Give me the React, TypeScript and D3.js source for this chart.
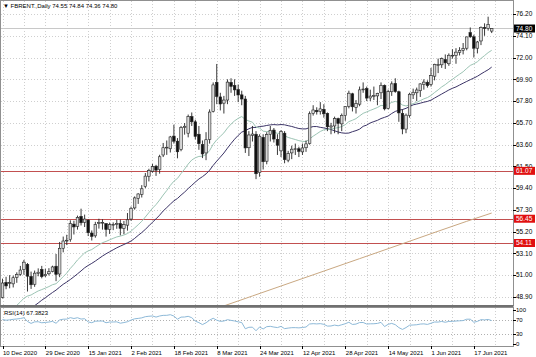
import React from "react";
import * as d3 from "d3";

const W = 536;
const H = 357;

// closes before the first visible bar (needed by the moving averages and RSI)
const priorCloses = [41.2, 39.12, 37.65, 37.46, 38.97, 40.71, 41.23, 40.93, 39.45, 42.4, 43.61, 43.8, 43.53, 42.78, 43.82, 43.75, 44.34, 44.2, 44.96, 46.06, 47.86, 48.61, 47.8, 48.18, 47.59, 47.42, 48.25, 48.71, 49.25, 48.79, 48.84, 48.86];

const opens = [48.86, 50.31, 50.22, 50.17, 50.79, 51.09, 51.54, 52.04, 50.88, 50.13, 51.18, 51.56, 50.95, 51.14, 51.36, 51.87, 51.12, 53.6, 54.34, 54.43, 55.93, 55.72, 56.68, 56.1, 56.32, 55.07, 54.8, 56.05, 56.1, 55.98, 55.42, 55.83, 55.9, 55.98, 55.52, 55.83, 56.42, 57.49, 58.41, 58.8, 59.56, 60.55, 61.03, 61.52, 61.2, 62.6, 63.29, 63.2, 64.42, 63.93, 63.12, 65.24, 64.7, 66.3, 65.8, 64.6, 63.6, 62.8, 64.1, 66.8, 69.6, 68.2, 67.6, 67.9, 69.6, 69.3, 68.9, 68.4, 68.0, 63.3, 64.5, 64.6, 60.9, 64.3, 62.0, 64.6, 65.0, 64.1, 63.0, 64.7, 62.1, 62.8, 63.2, 63.2, 62.9, 63.3, 63.7, 66.6, 66.9, 66.8, 67.0, 66.6, 65.3, 65.4, 66.1, 65.6, 66.4, 67.3, 68.5, 67.2, 67.5, 68.9, 69.0, 68.1, 68.3, 68.3, 68.6, 69.3, 67.1, 68.7, 69.5, 68.7, 66.6, 65.1, 66.4, 68.4, 68.6, 68.8, 69.4, 69.6, 69.4, 70.2, 71.3, 71.3, 71.8, 71.4, 72.2, 72.2, 72.5, 72.7, 72.9, 74.4, 74.0, 72.9, 73.6, 74.9, 74.8, 74.55];
const highs = [50.67, 50.85, 51.01, 50.96, 51.28, 51.9, 52.48, 52.18, 51.35, 51.45, 51.66, 51.9, 51.62, 51.68, 51.92, 53.05, 54.21, 54.73, 54.9, 56.3, 56.26, 56.75, 57.42, 56.85, 56.4, 55.32, 56.15, 56.45, 56.4, 56.0, 56.08, 56.1, 56.34, 56.37, 56.24, 57.0, 57.62, 58.6, 58.91, 59.69, 60.86, 61.27, 61.74, 61.65, 62.62, 63.76, 64.0, 64.44, 65.52, 64.23, 65.4, 65.68, 66.5, 66.7, 66.0, 65.4, 64.0, 64.8, 67.0, 69.6, 71.38, 68.6, 68.3, 69.9, 70.0, 69.9, 69.4, 68.8, 68.3, 64.9, 65.4, 64.9, 64.6, 64.6, 64.8, 65.4, 65.2, 64.6, 65.0, 64.9, 63.0, 63.5, 63.7, 63.4, 63.7, 64.0, 66.8, 67.4, 67.2, 67.7, 67.5, 66.7, 65.7, 66.3, 66.2, 66.6, 67.3, 68.8, 68.6, 67.9, 69.2, 69.6, 69.2, 68.9, 69.2, 68.6, 69.6, 69.4, 68.9, 69.7, 70.0, 68.8, 67.0, 66.6, 68.6, 69.0, 69.1, 69.5, 69.9, 69.8, 71.0, 71.4, 71.9, 72.0, 72.3, 72.4, 72.8, 72.9, 73.0, 73.4, 74.0, 74.9, 74.2, 73.6, 75.0, 75.3, 75.94, 74.84];
const lows = [48.76, 49.65, 49.74, 49.82, 50.27, 50.95, 51.05, 49.43, 49.68, 49.88, 50.9, 50.7, 50.82, 50.98, 51.28, 50.43, 50.81, 53.21, 53.91, 54.23, 54.93, 55.4, 55.8, 55.65, 54.78, 54.35, 54.62, 55.5, 55.4, 54.73, 54.98, 55.35, 55.48, 54.85, 54.96, 55.3, 56.25, 57.33, 57.88, 58.5, 59.4, 60.05, 60.9, 60.58, 60.8, 62.4, 62.61, 62.84, 63.7, 62.28, 62.96, 64.56, 64.3, 65.4, 64.1, 63.1, 62.3, 62.1, 63.7, 66.7, 67.5, 66.9, 66.6, 67.5, 68.6, 68.3, 67.7, 67.4, 62.8, 62.5, 63.9, 60.27, 60.5, 61.2, 61.7, 63.9, 63.8, 62.6, 62.4, 61.8, 61.9, 62.2, 62.6, 62.4, 62.6, 62.9, 63.6, 66.4, 66.5, 66.5, 66.2, 64.9, 64.6, 64.7, 64.6, 64.9, 65.9, 67.1, 66.8, 66.6, 67.3, 68.6, 67.8, 67.8, 67.9, 67.4, 68.0, 66.9, 67.0, 68.3, 68.6, 65.8, 64.6, 64.7, 66.2, 68.0, 67.8, 68.2, 68.9, 69.1, 69.2, 69.8, 70.5, 71.0, 70.9, 71.2, 71.9, 71.4, 72.2, 72.3, 72.7, 73.9, 72.0, 72.4, 73.2, 74.1, 74.6, 74.36];
const closes = [50.25, 49.97, 50.29, 50.76, 51.08, 51.5, 52.26, 50.91, 50.08, 51.2, 51.29, 50.86, 51.09, 51.34, 51.8, 51.09, 53.6, 54.3, 54.38, 55.99, 55.66, 56.58, 56.06, 56.42, 55.1, 54.75, 55.9, 56.08, 56.1, 55.41, 55.88, 55.91, 56.0, 55.53, 55.88, 56.35, 57.46, 58.46, 58.84, 59.34, 60.56, 61.09, 61.47, 61.14, 62.43, 63.3, 63.35, 64.34, 63.93, 62.91, 65.24, 65.37, 66.3, 65.8, 64.4, 63.69, 62.7, 64.07, 66.74, 69.36, 68.24, 67.52, 67.9, 69.63, 69.22, 68.88, 68.39, 68.0, 63.28, 64.53, 64.62, 60.79, 64.41, 61.95, 64.57, 64.98, 64.14, 63.54, 64.86, 62.15, 62.74, 63.16, 63.2, 62.95, 63.28, 63.67, 66.58, 66.94, 66.77, 67.05, 66.57, 65.32, 65.4, 66.11, 65.65, 66.42, 67.27, 68.56, 67.25, 67.56, 68.88, 68.96, 68.09, 68.28, 68.32, 68.55, 69.32, 67.05, 68.71, 69.46, 68.71, 66.66, 65.11, 66.44, 68.46, 68.65, 68.87, 69.46, 69.63, 69.3, 70.25, 71.35, 71.31, 71.89, 71.49, 72.22, 72.22, 72.52, 72.69, 72.86, 73.99, 74.0, 72.9, 73.5, 74.9, 74.81, 75.19, 74.8];

// long moving average (at a few bars)
const longMaBars = [55, 70, 85, 100, 115, 130, 137];
const longMaValues = [47.2, 49.0, 50.8, 52.6, 54.4, 56.2, 57.0];

const dateTickLabels = ["10 Dec 2020", "29 Dec 2020", "15 Jan 2021", "2 Feb 2021", "18 Feb 2021", "8 Mar 2021", "24 Mar 2021", "12 Apr 2021", "28 Apr 2021", "14 May 2021", "1 Jun 2021", "17 Jun 2021"];
const dateTickBars = [0, 12, 24, 36, 48, 60, 72, 84, 96, 108, 120, 132];
const priceTicks = [76.2, 74.1, 72.0, 69.9, 67.8, 65.7, 63.6, 61.5, 59.4, 57.3, 55.2, 53.1, 51.0, 48.9];
const levelPrices = [61.07, 56.45, 54.11];
const rsiTicks = [100, 70, 30, 0];
const rsiLevels = [70, 30];
const lastPrice = 74.8;
const headerText = "FBRENT.,Daily  74.55 74.84 74.36 74.80";
const rsiText = "RSI(14) 67.3823";

const FONT = "'Liberation Sans', Arial, sans-serif";

function ema(values: number[], n: number): (number | null)[] {
  const out: (number | null)[] = [];
  let prev: number | null = null;
  const k = 2 / (n + 1);
  values.forEach((v, i) => {
    if (i < n - 1) { out.push(null); return; }
    if (prev === null) prev = d3.mean(values.slice(0, n)) as number;
    else prev = v * k + prev * (1 - k);
    out.push(prev);
  });
  return out;
}
function sma(values: number[], n: number): (number | null)[] {
  return values.map((_, i) => (i < n - 1 ? null : (d3.mean(values.slice(i - n + 1, i + 1)) as number)));
}
function rsi(values: number[], n: number): (number | null)[] {
  const out: (number | null)[] = [null];
  let ag = 0, al = 0;
  for (let i = 1; i < values.length; i++) {
    const ch = values[i] - values[i - 1];
    const g = Math.max(ch, 0), l = Math.max(-ch, 0);
    if (i <= n) {
      ag += g / n; al += l / n;
      out.push(i === n ? 100 - 100 / (1 + ag / (al || 1e-9)) : null);
    } else {
      ag = (ag * (n - 1) + g) / n;
      al = (al * (n - 1) + l) / n;
      out.push(100 - 100 / (1 + ag / (al || 1e-9)));
    }
  }
  return out;
}

export default function App() {
  const n = closes.length;
  const left = 1, right = 513, top = 1, mainBottom = 305, rsiTop = 308, rsiBottom = 346;
  const x = d3.scaleLinear().domain([0, n - 1]).range([2.5, 491.7]);
  const y = d3.scaleLinear().domain([48.9, 76.2]).range([297, 14]);
  const yr = d3.scaleLinear().domain([0, 100]).range([344, 309.5]);

  const all = priorCloses.concat(closes);
  const off = priorCloses.length;
  const fast = ema(all, 20).slice(off);
  const slow = sma(all, 30).slice(off);
  const rs = rsi(all, 14).slice(off);

  const lineGen = d3.line<[number, number | null]>()
    .defined((d) => d[1] !== null)
    .x((d) => x(d[0]))
    .y((d) => y(d[1] as number));
  const fastPath = lineGen(fast.map((v, i) => [i, v]));
  const slowPath = lineGen(slow.map((v, i) => [i, v]));
  const longPath = d3.line<number>()
    .x((_, i) => x(longMaBars[i]))
    .y((v) => y(v))
    .curve(d3.curveMonotoneX)(longMaValues);
  const rsiPath = d3.line<[number, number | null]>()
    .defined((d) => d[1] !== null)
    .x((d) => x(d[0]))
    .y((d) => yr(d[1] as number))(rs.map((v, i) => [i, v]));

  const gridBars = d3.range(0, n + 2, 6);
  const bw = 2.6;

  return (
    <svg width={W} height={H} style={{ display: "block", position: "absolute", left: 0, top: 0, background: "#fff" }}>
      <defs>
        <clipPath id="mainClip"><rect x={left} y={top} width={right - left} height={mainBottom - top} /></clipPath>
        <clipPath id="rsiClip"><rect x={left} y={rsiTop} width={right - left} height={rsiBottom - rsiTop} /></clipPath>
      </defs>
      <rect x={0} y={0} width={W} height={H} fill="#fff" />
      {/* grid */}
      <g stroke="#cfcfcf" strokeWidth={1} strokeDasharray="1,2">
        {priceTicks.map((p) => (
          <line key={"hg" + p} x1={left} x2={right} y1={Math.round(y(p)) + 0.5} y2={Math.round(y(p)) + 0.5} />
        ))}
        {gridBars.map((b) => (
          <line key={"vg" + b} x1={Math.round(x(b)) + 0.5} x2={Math.round(x(b)) + 0.5} y1={top} y2={mainBottom} />
        ))}
        {gridBars.map((b) => (
          <line key={"vgr" + b} x1={Math.round(x(b)) + 0.5} x2={Math.round(x(b)) + 0.5} y1={rsiTop} y2={rsiBottom} />
        ))}
        {rsiLevels.map((r) => (
          <line key={"rl" + r} x1={left} x2={right} y1={Math.round(yr(r)) + 0.5} y2={Math.round(yr(r)) + 0.5} stroke="#b0b0b0" />
        ))}
      </g>
      <g clipPath="url(#mainClip)">
        {/* last price line */}
        <line x1={left} x2={right} y1={y(lastPrice)} y2={y(lastPrice)} stroke="#c8c8c8" strokeWidth={1} />
        {levelPrices.map((p) => (
          <line key={"lv" + p} x1={left} x2={right} y1={Math.round(y(p)) + 0.5} y2={Math.round(y(p)) + 0.5} stroke="#c25050" strokeWidth={1} />
        ))}
        <path d={longPath || ""} fill="none" stroke="#c9a882" strokeWidth={1} />
        <path d={slowPath || ""} fill="none" stroke="#3b3366" strokeWidth={1} />
        <path d={fastPath || ""} fill="none" stroke="#9cc4b4" strokeWidth={1} />
        {closes.map((c, i) => {
          const o = opens[i];
          const cx = x(i);
          const up = c >= o;
          const yt = y(Math.max(o, c));
          const yb = y(Math.min(o, c));
          return (
            <g key={"c" + i}>
              <line x1={cx} x2={cx} y1={y(highs[i])} y2={y(lows[i])} stroke="#222" strokeWidth={0.9} />
              <rect x={cx - bw / 2} y={yt} width={bw} height={Math.max(yb - yt, 0.8)}
                fill={up ? "#d8d8d8" : "#111"} stroke="#222" strokeWidth={0.6} />
            </g>
          );
        })}
      </g>
      <g clipPath="url(#rsiClip)">
        <path d={rsiPath || ""} fill="none" stroke="#8db9d8" strokeWidth={1} />
      </g>
      {/* frames */}
      <rect x={left - 0.5} y={top - 0.5} width={right - left + 1} height={mainBottom - top + 1} fill="none" stroke="#909090" strokeWidth={1} />
      <line x1={0} x2={right + 0.5} y1={mainBottom + 1.5} y2={mainBottom + 1.5} stroke="#707070" strokeWidth={3} />
      <rect x={left - 0.5} y={rsiTop - 0.5} width={right - left + 1} height={rsiBottom - rsiTop + 1} fill="none" stroke="#909090" strokeWidth={1} />
      {/* header */}
      <text x={3} y={8} fontSize={6} fontFamily={FONT} fill="#000">{"\u25BC " + headerText}</text>
      <text x={4} y={315} fontSize={6} fontFamily={FONT} fill="#000">{rsiText}</text>
      {/* price axis */}
      {priceTicks.map((p) => (
        <g key={"pt" + p}>
          <line x1={right} x2={right + 3} y1={Math.round(y(p)) + 0.5} y2={Math.round(y(p)) + 0.5} stroke="#000" />
          <text x={right + 3} y={y(p) + 2.2} fontSize={6.5} fontFamily={FONT} fill="#000">{p.toFixed(2)}</text>
        </g>
      ))}
      {levelPrices.map((p) => (
        <g key={"lb" + p}>
          <rect x={right + 1} y={y(p) - 4} width={21} height={8} fill="#e01010" />
          <text x={right + 3} y={y(p) + 2.3} fontSize={6.5} fontFamily={FONT} fill="#fff">{p.toFixed(2)}</text>
        </g>
      ))}
      <rect x={right + 1} y={y(lastPrice) - 4} width={21} height={8} fill="#000" />
      <text x={right + 3} y={y(lastPrice) + 2.3} fontSize={6.5} fontFamily={FONT} fill="#fff">{lastPrice.toFixed(2)}</text>
      {/* rsi axis */}
      {rsiTicks.map((r) => (
        <g key={"rt" + r}>
          <line x1={right} x2={right + 3} y1={Math.round(yr(r)) + 0.5} y2={Math.round(yr(r)) + 0.5} stroke="#000" />
          <text x={right + 3} y={yr(r) + 2.2} fontSize={6} fontFamily={FONT} fill="#000">{r}</text>
        </g>
      ))}
      {/* time axis */}
      {dateTickBars.map((b, i) => (
        <g key={"dt" + b}>
          <line x1={Math.round(x(b)) + 0.5} x2={Math.round(x(b)) + 0.5} y1={rsiBottom} y2={rsiBottom + 3} stroke="#000" />
          <text x={x(b) + 0.5} y={355} fontSize={6} fontFamily={FONT} fill="#000">{dateTickLabels[i]}</text>
        </g>
      ))}
    </svg>
  );
}
